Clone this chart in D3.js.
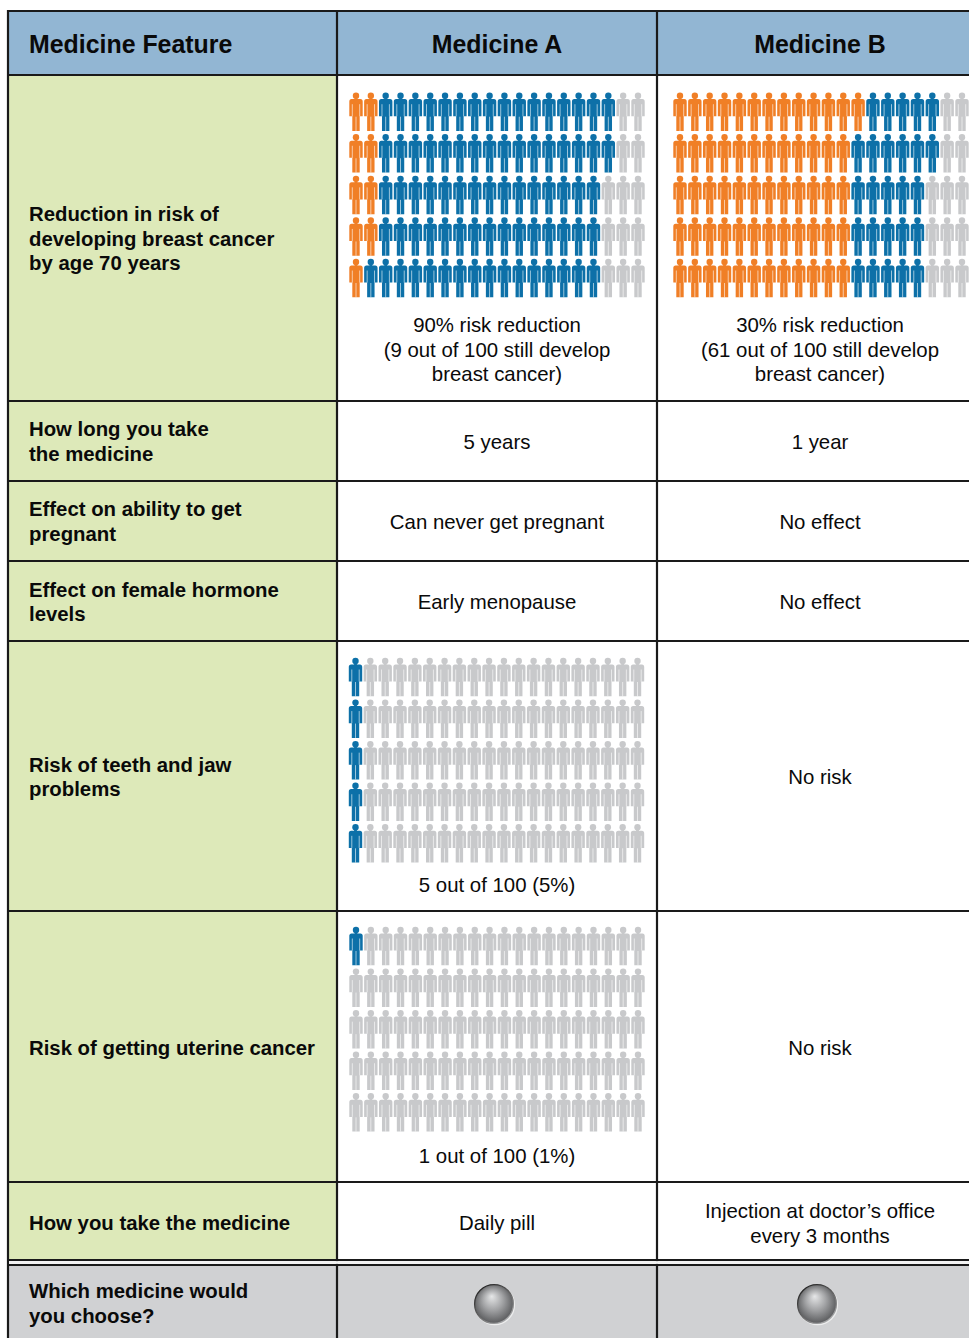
<!DOCTYPE html>
<html>
<head>
<meta charset="utf-8">
<script src="https://cdn.jsdelivr.net/npm/d3@7"></script>
<style>
  html, body { margin: 0; padding: 0; background: #fff; overflow: hidden; }
  text { font-family: "Liberation Sans", Arial, sans-serif; fill: #0a0a0a; }
</style>
</head>
<body>
<div id="chart"></div>
<script>
// table text
var headers = ["Medicine Feature", "Medicine A", "Medicine B"];
var featureLabels = [
  ["Reduction in risk of", "developing breast cancer", "by age 70 years"],
  ["How long you take", "the medicine"],
  ["Effect on ability to get", "pregnant"],
  ["Effect on female hormone", "levels"],
  ["Risk of teeth and jaw", "problems"],
  ["Risk of getting uterine cancer"],
  ["How you take the medicine"],
  ["Which medicine would", "you choose?"]
];
var medicineA = [
  ["90% risk reduction", "(9 out of 100 still develop", "breast cancer)"],
  ["5 years"],
  ["Can never get pregnant"],
  ["Early menopause"],
  ["5 out of 100 (5%)"],
  ["1 out of 100 (1%)"],
  ["Daily pill"]
];
var medicineB = [
  ["30% risk reduction", "(61 out of 100 still develop", "breast cancer)"],
  ["1 year"],
  ["No effect"],
  ["No effect"],
  ["No risk"],
  ["No risk"],
  ["Injection at doctor\u2019s office", "every 3 months"]
];

// people per row of each pictogram, [orange, blue, grey]
var riskA = [[2, 16, 2], [2, 16, 2], [2, 15, 3], [2, 15, 3], [1, 16, 3]];
var riskB = [[13, 5, 2], [12, 6, 2], [12, 5, 3], [12, 5, 3], [12, 5, 3]];
var teethA = [[0, 1, 19], [0, 1, 19], [0, 1, 19], [0, 1, 19], [0, 1, 19]];
var uterineA = [[0, 1, 19], [0, 0, 20], [0, 0, 20], [0, 0, 20], [0, 0, 20]];

var width = 969, height = 1338;
var colEdges = [8, 337, 657, 969];
var rowEdges = [11, 75, 401, 481, 561, 641, 911, 1182, 1260, 1338];
var colColors = ["#f07f27", "#0a70a8", "#c8c9cb"];

var svg = d3.select("#chart").append("svg")
  .attr("width", width)
  .attr("height", height)
  .style("display", "block");

var defs = svg.append("defs");

// ball shading
var grad = defs.append("radialGradient")
  .attr("id", "ball")
  .attr("cx", "50%").attr("cy", "50%").attr("r", "58%")
  .attr("fx", "44%").attr("fy", "30%");
grad.append("stop").attr("offset", "0%").attr("stop-color", "#e6e7e8");
grad.append("stop").attr("offset", "45%").attr("stop-color", "#a3a4a6");
grad.append("stop").attr("offset", "85%").attr("stop-color", "#626365");
grad.append("stop").attr("offset", "100%").attr("stop-color", "#58595b");

var rim = defs.append("linearGradient")
  .attr("id", "rim")
  .attr("x1", "15%").attr("y1", "5%").attr("x2", "80%").attr("y2", "95%");
rim.append("stop").attr("offset", "0%").attr("stop-color", "#222");
rim.append("stop").attr("offset", "55%").attr("stop-color", "#666");
rim.append("stop").attr("offset", "100%").attr("stop-color", "#a9aaac");

// the people look a little soft in the scan
defs.append("filter").attr("id", "soft")
  .append("feGaussianBlur").attr("stdDeviation", 0.3);

// cell backgrounds
svg.append("rect").attr("x", colEdges[0]).attr("y", rowEdges[0])
  .attr("width", width - colEdges[0]).attr("height", rowEdges[1] - rowEdges[0])
  .attr("fill", "#92b6d3");
svg.append("rect").attr("x", colEdges[0]).attr("y", rowEdges[1])
  .attr("width", colEdges[1] - colEdges[0]).attr("height", rowEdges[8] - rowEdges[1])
  .attr("fill", "#dde9b9");
svg.append("rect").attr("x", colEdges[0]).attr("y", 1265)
  .attr("width", width - colEdges[0]).attr("height", height - 1265)
  .attr("fill", "#d0d1d3");

// grid lines
var horizontal = rowEdges.slice(0, 9).concat([1265]);
svg.selectAll("line.h").data(horizontal).enter().append("line")
  .attr("class", "h")
  .attr("x1", colEdges[0] - 1).attr("x2", width)
  .attr("y1", function(d) { return d; })
  .attr("y2", function(d) { return d; })
  .attr("stroke", "#1a1a1a")
  .attr("stroke-width", 2.2);
svg.selectAll("line.v").data(colEdges.slice(0, 3)).enter().append("line")
  .attr("class", "v")
  .attr("x1", function(d) { return d; })
  .attr("x2", function(d) { return d; })
  .attr("y1", rowEdges[0] - 1).attr("y2", height)
  .attr("stroke", "#1a1a1a")
  .attr("stroke-width", 2.2);

// small pale gap of the double rule
svg.append("rect").attr("x", colEdges[0] + 1.1).attr("y", 1261.1)
  .attr("width", width).attr("height", 2.8).attr("fill", "#f2f2f2");

function addLines(lines, x, yFirst, anchor, size, weight, step) {
  lines.forEach(function(s, i) {
    svg.append("text").text(s)
      .attr("x", x)
      .attr("y", yFirst + i * step)
      .attr("text-anchor", anchor)
      .attr("font-size", size + "px")
      .attr("font-weight", weight);
  });
}

// header row
addLines([headers[0]], 29, 52.7, "start", 24.9, "bold", 0);
addLines([headers[1]], 497, 52.7, "middle", 24.9, "bold", 0);
addLines([headers[2]], 820, 52.7, "middle", 24.9, "bold", 0);

// left column, first baselines
var labelY = [221, 436, 516, 596.5, 771.5, 1055, 1230, 1298];
featureLabels.forEach(function(lines, i) {
  addLines(lines, 29, labelY[i], "start", 20.35, "bold", 24.5);
});

// centre columns
var valueY = [332, 449, 528.5, 608.5, 892, 1162.5];
medicineA.forEach(function(lines, i) {
  addLines(lines, 497, i === 6 ? 1230 : valueY[i], "middle", 20.4, "normal", 24.5);
});
var valueYB = [332, 449, 528.5, 608.5, 784, 1055, 1218];
medicineB.forEach(function(lines, i) {
  addLines(lines, 820, valueYB[i], "middle", 20.4, "normal", 24.5);
});

// one person, origin at top centre of the head
var personBody = "M-1.4,4 L1.4,4 L1.4,6.4 L4.4,6.4 Q6.7,6.4 6.7,9 L6.7,23.6 L3.7,23.6 L3.7,38.3 "
  + "L-3.7,38.3 L-3.7,23.6 L-6.7,23.6 L-6.7,9 Q-6.7,6.4 -4.4,6.4 L-1.4,6.4 Z";

function pictogram(rows, xFirst, yFirst) {
  var x = d3.scaleLinear().domain([0, 19]).range([xFirst, xFirst + 282]);
  var y = d3.scaleLinear().domain([0, 4]).range([yFirst, yFirst + 166.3]);
  var people = [];
  rows.forEach(function(r, ri) {
    var col = 0;
    r.forEach(function(n, kind) {
      d3.range(n).forEach(function() {
        people.push({ row: ri, col: col, kind: kind });
        col += 1;
      });
    });
  });
  var g = svg.append("g").attr("filter", "url(#soft)");
  var p = g.selectAll("g.person").data(people).enter().append("g")
    .attr("class", "person")
    .attr("transform", function(d) {
      return "translate(" + x(d.col) + "," + y(d.row) + ")";
    });
  p.append("circle")
    .attr("cy", 3).attr("r", 3.2)
    .attr("fill", function(d) { return colColors[d.kind]; });
  p.append("path")
    .attr("d", personBody)
    .attr("fill", function(d) { return colColors[d.kind]; });
  // pale slits between arm and body, and between the legs
  p.append("path")
    .attr("d", "M-3.7,11.5 L-3.7,23.6 M3.7,11.5 L3.7,23.6 M0,24 L0,38.3")
    .attr("fill", "none")
    .attr("stroke", "#fff")
    .attr("stroke-opacity", 0.6)
    .attr("stroke-width", 1);
}

pictogram(riskA, 356, 92.7);
pictogram(riskB, 680, 92.7);
pictogram(teethA, 355.5, 658);
pictogram(uterineA, 356, 927);

// the two answer balls
var balls = svg.selectAll("g.ball").data(["Medicine A", "Medicine B"]).enter().append("g")
  .attr("class", "ball")
  .attr("transform", function(d, i) {
    return "translate(" + (i === 0 ? 494 : 817) + ",1304)";
  });
balls.append("circle")
  .attr("cx", 0.8).attr("cy", 1).attr("r", 20.3)
  .attr("fill", "#eceded");
balls.append("circle")
  .attr("r", 19.4)
  .attr("fill", "url(#ball)")
  .attr("stroke", "url(#rim)")
  .attr("stroke-width", 1.3);
</script>
</body>
</html>
